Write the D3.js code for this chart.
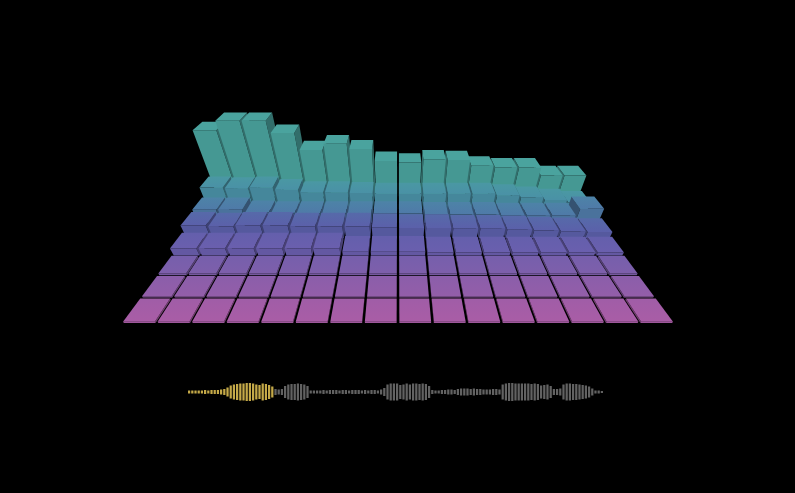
<!DOCTYPE html>
<head>
  <meta charset="utf-8">
  <script src="https://d3js.org/d3.v7.min.js"></script>
  <style>
    body { margin:0; background:#000; overflow:hidden; }
    svg { display:block; }
  </style>
</head>

<body>
  <script>
    // bar levels, back row first, 16 columns left to right
    var row8 = [81, 91, 91, 78, 59, 66, 60, 46, 44, 48, 47, 40, 38, 38, 28, 28];
    var row7 = [28, 27, 28, 25, 22, 22, 21, 20, 20, 20, 20, 20, 18, 15, 12, 9];
    var row6 = [17, 17, 13, 12, 12, 12, 12, 12, 12, 11, 11, 11, 10, 10, 10, 18];
    var row5 = [16, 15, 16, 16, 15, 15, 15, 14, 13, 13, 12, 12, 11, 10, 9, 8];
    var row4 = [9, 9, 9, 9, 9, 9, 5, 5, 5, 4, 4, 4, 4, 4, 4, 4];
    var row3 = [2, 2, 2, 2, 2, 2, 2, 2, 2, 2, 2, 2, 2, 2, 2, 2];
    var row2 = [1.5, 1.5, 1.5, 1.5, 1.5, 1.5, 1.5, 1.5, 1.5, 1.5, 1.5, 1.5, 1.5, 1.5, 1.5, 1.5];
    var row1 = [1.5, 1.5, 1.5, 1.5, 1.5, 1.5, 1.5, 1.5, 1.5, 1.5, 1.5, 1.5, 1.5, 1.5, 1.5, 1.5];
    var rows = [row8, row7, row6, row5, row4, row3, row2, row1];
    var columns = d3.range(16);

    // waveform strip underneath
    var wave = [3, 3, 3, 3, 3, 4, 3, 4, 4, 4, 5, 6,
      9, 13, 15, 16, 17, 17, 18, 18, 17, 15, 14, 17, 16, 14, 11,
      6, 5, 6,
      12, 15, 16, 16, 17, 16, 15, 12,
      3, 3, 3, 3, 4, 3, 4, 4, 4, 3, 4, 4, 3, 4, 4, 4, 3, 4, 3, 4, 4, 3, 5,
      8, 15, 17, 17, 17, 14, 15, 17, 15, 17, 17, 16, 17, 16, 12,
      4, 3, 3, 4, 4, 5, 5, 4, 6, 7, 7, 7, 6, 7, 6, 6, 5, 5, 5, 6, 6, 5,
      15, 17, 18, 18, 17, 17, 17, 17, 17, 16, 17, 16, 13, 14, 15, 12,
      6, 6, 7,
      15, 17, 17, 16, 16, 15, 14, 13, 11, 7,
      3, 3, 2];
    var playedBars = 27;

    var width = 795, height = 493;

    var rowTones = ['#4aa39e', '#4a91a6', '#4f7aa8', '#5b60aa', '#6a5fae', '#7e5fab', '#935ea9', '#a95da6'];

    var svg = d3.select('body').append('svg')
      .attr('width', width)
      .attr('height', height)
      .style('background', '#000');

    // world scales
    var xWorld = d3.scaleBand().domain(columns).range([-8, 8]).paddingInner(0.08).paddingOuter(0);
    var zWorld = d3.scaleBand().domain(d3.range(rows.length)).range([0, 8]).paddingInner(0.1).paddingOuter(0.05);
    var yWorld = d3.scaleLinear().domain([0, 100]).range([0, 3.7]);
    var tone = d3.scaleOrdinal().domain(d3.range(rows.length)).range(rowTones);

    // camera looks down at the floor
    var focal = 356, pitch = Math.atan(0.83), camY = 8.32, camZ = 14.55;
    var sinP = Math.sin(pitch), cosP = Math.cos(pitch);
    function project(x, y, z) {
      var dy = y - camY, dz = z - camZ;
      var depth = -dy * sinP - dz * cosP;
      var up = dy * cosP - dz * sinP;
      return [398 + focal * x / depth, 248 - focal * up / depth];
    }
    var poly = d3.line();

    var defs = svg.append('defs');
    rows.forEach(function(r, i) {
      var next = rowTones[Math.max(i - 1, 0)];
      var g = defs.append('linearGradient').attr('id', 'top' + i)
        .attr('x1', 0).attr('x2', 0).attr('y1', 0).attr('y2', 1);
      g.append('stop').attr('offset', 0).attr('stop-color', d3.interpolateRgb(rowTones[i], next)(0.4));
      g.append('stop').attr('offset', 1).attr('stop-color', rowTones[i]);
    });

    var bars = svg.append('g');
    rows.forEach(function(r, i) {
      // outer columns first so that the inner ones overlap them
      var order = columns.slice().sort(function(a, b) {
        return Math.abs(b - 7.5) - Math.abs(a - 7.5);
      });
      order.forEach(function(c) {
        var x0 = xWorld(c), x1 = x0 + xWorld.bandwidth();
        var z0 = zWorld(i), z1 = z0 + zWorld.bandwidth();
        var h = yWorld(r[c]);
        var base = d3.color(tone(i));
        var g = bars.append('g');
        var sx = c < 8 ? x1 : x0;
        g.append('path')
          .attr('d', poly([project(sx, 0, z0), project(sx, 0, z1), project(sx, h, z1), project(sx, h, z0)]) + 'Z')
          .attr('fill', base.darker(1.1));
        g.append('path')
          .attr('d', poly([project(x0, 0, z1), project(x1, 0, z1), project(x1, h, z1), project(x0, h, z1)]) + 'Z')
          .attr('fill', base.darker(0.2));
        g.append('path')
          .attr('d', poly([project(x0, h, z0), project(x1, h, z0), project(x1, h, z1), project(x0, h, z1)]) + 'Z')
          .attr('fill', 'url(#top' + i + ')');
      });
    });

    var waveX = d3.scaleBand().domain(d3.range(wave.length)).range([188, 603]).paddingInner(0.3);
    var waveH = d3.scaleLinear().domain([0, 18]).range([0, 18]);
    svg.append('g').selectAll('rect')
      .data(wave)
      .enter().append('rect')
      .attr('x', function(d, i) { return waveX(i); })
      .attr('width', waveX.bandwidth())
      .attr('y', function(d) { return 392 - waveH(d) / 2; })
      .attr('height', function(d) { return waveH(d); })
      .attr('fill', function(d, i) { return i < playedBars ? '#c4a948' : '#626262'; });
  </script>
</body>
